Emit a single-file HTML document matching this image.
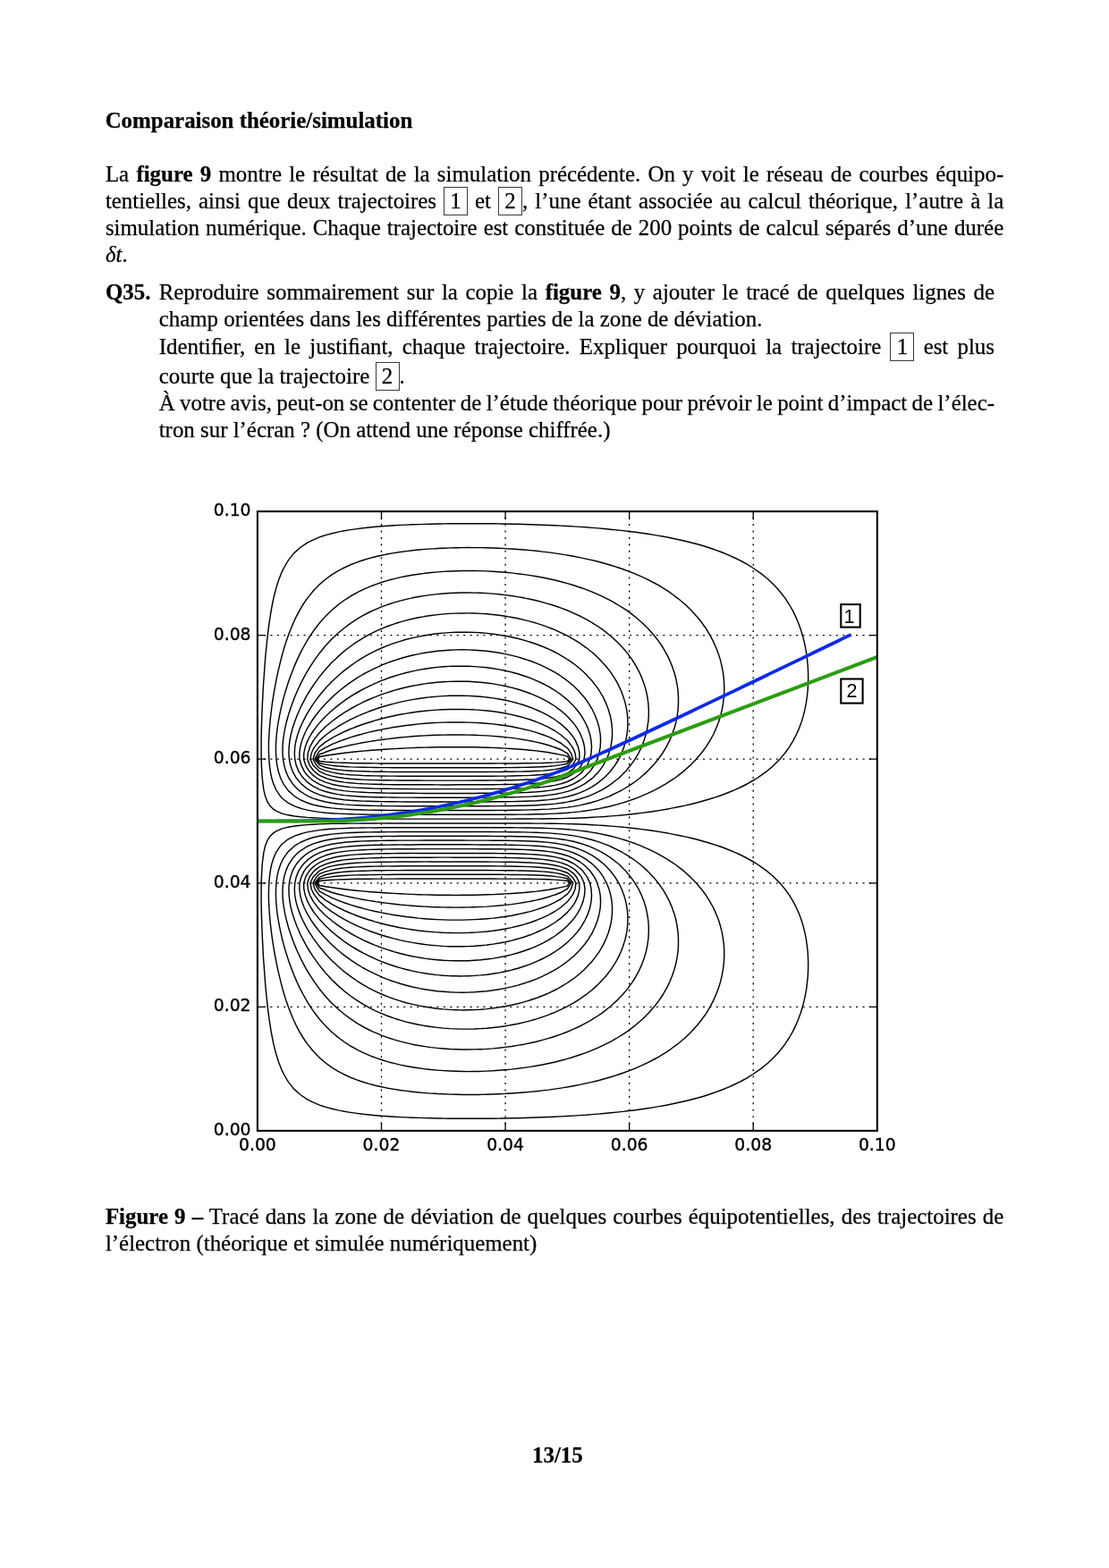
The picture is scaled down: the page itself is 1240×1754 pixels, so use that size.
<!DOCTYPE html>
<html lang="fr"><head><meta charset="utf-8"><title>Page 13/15</title><style>
html,body{margin:0;padding:0;background:#fff}
body{width:1240px;height:1754px;position:relative;overflow:hidden;font-family:"Liberation Serif",serif;font-size:24.9px;color:#000;-webkit-text-stroke:0.25px #000}
#t{position:absolute;left:0;top:0;width:1240px;height:1754px;will-change:transform}
.ln{position:absolute;white-space:nowrap;line-height:30px;height:30px}
.bx{display:inline-block;border:0.85px solid #3a3a3a;padding:6.25px 6.25px 7px;margin:-1.5px 0;line-height:17px;text-align:center;word-spacing:0}
</style></head><body>
<svg width="1240" height="1754" viewBox="0 0 1240 1754" style="position:absolute;left:0;top:0;will-change:transform">
<g stroke="#000" stroke-width="1.3" stroke-dasharray="2.05 5.39" fill="none"><line x1="287.50" y1="1126.34" x2="980.80" y2="1126.34"/><line x1="426.48" y1="1265.10" x2="426.48" y2="572.10"/><line x1="287.50" y1="987.78" x2="980.80" y2="987.78"/><line x1="565.06" y1="1265.10" x2="565.06" y2="572.10"/><line x1="287.50" y1="849.22" x2="980.80" y2="849.22"/><line x1="703.64" y1="1265.10" x2="703.64" y2="572.10"/><line x1="287.50" y1="710.66" x2="980.80" y2="710.66"/><line x1="842.22" y1="1265.10" x2="842.22" y2="572.10"/></g>
<path d="M391.8,995.5 385.3,994.7 384.9,994.7 378.0,993.8 371.0,992.8 364.1,991.7 357.2,990.5 355.4,987.8 357.2,985.5 364.1,984.8 371.0,984.3 378.0,983.9 384.9,983.7 391.8,983.5 398.8,983.3 405.7,983.3 412.6,983.2 419.6,983.1 426.5,983.1 433.4,983.1 440.3,983.1 447.3,983.0 454.2,983.0 461.1,983.0 468.1,983.0 475.0,983.0 481.9,983.0 488.8,983.0 495.8,983.0 502.7,983.0 509.6,983.0 516.6,983.0 523.5,983.0 530.4,983.0 537.3,983.0 544.3,983.0 551.2,983.0 558.1,983.1 565.1,983.1 572.0,983.1 578.9,983.1 585.8,983.2 592.8,983.3 599.7,983.4 606.6,983.5 613.6,983.8 620.5,984.1 627.4,984.6 634.3,985.3 636.5,987.8 634.3,991.1 627.4,992.6 620.5,994.0 616.0,994.7 613.6,995.2 606.6,996.2 599.7,997.1 592.8,997.8 585.8,998.5 578.9,999.0 572.0,999.5 565.1,999.9 558.1,1000.3 551.2,1000.6 544.3,1000.8 537.3,1001.0 530.4,1001.2 523.5,1001.3 516.6,1001.3 509.6,1001.4 502.7,1001.3 495.8,1001.3 488.8,1001.2 481.9,1001.0 475.0,1000.9 468.1,1000.7 461.1,1000.4 454.2,1000.1 447.3,999.8 440.3,999.4 433.4,999.0 426.5,998.5 419.6,998.0 412.6,997.5 405.7,996.9 398.8,996.2ZM426.5,1009.5 419.9,1008.6 419.6,1008.5 412.6,1007.4 405.7,1006.2 398.8,1004.9 391.8,1003.5 384.9,1001.9 384.0,1001.6 378.0,1000.2 371.0,998.2 364.1,995.8 362.2,994.7 357.2,993.2 353.6,987.8 357.2,983.3 364.1,981.9 370.8,980.9 371.0,980.8 378.0,980.0 384.9,979.5 391.8,979.1 398.8,978.9 405.7,978.7 412.6,978.6 419.6,978.5 426.5,978.4 433.4,978.4 440.3,978.3 447.3,978.3 454.2,978.3 461.1,978.3 468.1,978.3 475.0,978.2 481.9,978.2 488.8,978.2 495.8,978.2 502.7,978.2 509.6,978.2 516.6,978.2 523.5,978.2 530.4,978.3 537.3,978.3 544.3,978.3 551.2,978.3 558.1,978.3 565.1,978.4 572.0,978.4 578.9,978.5 585.8,978.6 592.8,978.8 599.7,979.0 606.6,979.3 613.6,979.7 620.5,980.4 623.4,980.9 627.4,981.4 634.3,982.8 638.6,987.8 634.3,994.5 633.6,994.7 627.4,998.3 620.5,1001.0 618.2,1001.6 613.6,1003.3 606.6,1005.2 599.7,1006.9 592.8,1008.3 591.1,1008.6 585.8,1009.5 578.9,1010.6 572.0,1011.6 565.1,1012.4 558.1,1013.0 551.2,1013.6 544.3,1014.1 537.3,1014.4 530.4,1014.7 523.5,1014.9 516.6,1015.0 509.6,1015.1 502.7,1015.0 495.8,1014.9 488.8,1014.7 481.9,1014.5 475.0,1014.1 468.1,1013.7 461.1,1013.2 454.2,1012.6 447.3,1012.0 440.3,1011.2 433.4,1010.4ZM440.3,1023.5 434.4,1022.4 433.4,1022.3 426.5,1020.9 419.6,1019.5 412.6,1017.9 405.7,1016.1 403.7,1015.5 398.8,1014.2 391.8,1012.1 384.9,1009.7 382.0,1008.6 378.0,1007.2 371.0,1004.3 366.0,1001.6 364.1,1000.9 357.2,996.8 355.7,994.7 351.9,987.8 357.2,981.1 358.0,980.9 364.1,978.5 371.0,977.0 378.0,976.0 384.9,975.3 391.8,974.8 398.8,974.4 405.7,974.2 412.6,974.0 414.5,973.9 419.6,973.8 426.5,973.7 433.4,973.6 440.3,973.6 447.3,973.6 454.2,973.5 461.1,973.5 468.1,973.5 475.0,973.5 481.9,973.5 488.8,973.5 495.8,973.5 502.7,973.5 509.6,973.5 516.6,973.5 523.5,973.5 530.4,973.5 537.3,973.5 544.3,973.5 551.2,973.6 558.1,973.6 565.1,973.7 572.0,973.7 578.9,973.9 581.9,973.9 585.8,974.0 592.8,974.2 599.7,974.5 606.6,974.9 613.6,975.5 620.5,976.4 627.4,977.7 634.3,980.1 635.3,980.9 640.7,987.8 638.4,994.7 634.3,1000.4 632.3,1001.6 627.4,1005.5 621.6,1008.6 620.5,1009.3 613.6,1012.6 606.6,1015.2 605.7,1015.5 599.7,1017.6 592.8,1019.6 585.8,1021.3 580.7,1022.4 578.9,1022.8 572.0,1024.2 565.1,1025.3 558.1,1026.3 551.2,1027.1 544.3,1027.7 537.3,1028.2 530.4,1028.6 523.5,1028.9 516.6,1029.1 509.6,1029.1 502.7,1029.1 495.8,1028.9 488.8,1028.6 481.9,1028.2 475.0,1027.7 468.1,1027.1 461.1,1026.3 454.2,1025.5 447.3,1024.5ZM495.8,1043.3 494.1,1043.2 488.8,1042.9 481.9,1042.4 475.0,1041.8 468.1,1041.0 461.1,1040.0 454.2,1038.9 447.3,1037.7 440.4,1036.3 440.3,1036.3 433.4,1034.7 426.5,1033.0 419.6,1031.1 413.8,1029.3 412.6,1029.0 405.7,1026.8 398.8,1024.2 394.3,1022.4 391.8,1021.5 384.9,1018.5 378.9,1015.5 378.0,1015.1 371.0,1011.4 366.8,1008.6 364.1,1007.1 357.3,1001.6 357.2,1001.6 352.1,994.7 350.3,988.8 350.0,987.8 350.3,987.2 353.9,980.9 357.2,977.6 364.1,974.9 368.2,973.9 371.0,973.1 378.0,971.8 384.9,970.9 391.8,970.3 398.8,969.9 405.7,969.5 412.6,969.3 419.6,969.1 426.5,969.0 433.4,968.9 440.3,968.9 447.3,968.8 454.2,968.8 461.1,968.7 468.1,968.7 475.0,968.7 481.9,968.7 488.8,968.7 495.8,968.7 502.7,968.7 509.6,968.7 516.6,968.7 523.5,968.7 530.4,968.7 537.3,968.7 544.3,968.8 551.2,968.8 558.1,968.9 565.1,968.9 572.0,969.0 578.9,969.2 585.8,969.4 592.8,969.6 599.7,970.0 606.6,970.5 613.6,971.2 620.5,972.3 627.3,973.9 627.4,974.0 634.3,976.3 639.7,980.9 641.3,983.1 644.0,987.8 643.0,994.7 641.3,998.9 639.8,1001.6 634.5,1008.6 634.3,1008.7 627.4,1014.8 626.3,1015.5 620.5,1019.5 615.2,1022.4 613.6,1023.4 606.6,1026.7 600.0,1029.3 599.7,1029.5 592.8,1032.0 585.8,1034.1 578.9,1036.0 577.6,1036.3 572.0,1037.6 565.1,1039.0 558.1,1040.2 551.2,1041.2 544.3,1042.0 537.3,1042.6 530.4,1043.1 527.9,1043.2 523.5,1043.4 516.6,1043.6 509.6,1043.6 502.7,1043.5ZM481.9,1057.3 480.1,1057.1 475.0,1056.5 468.1,1055.5 461.1,1054.4 454.2,1053.1 447.3,1051.6 441.3,1050.1 440.3,1049.9 433.4,1048.0 426.5,1046.0 419.6,1043.7 418.4,1043.2 412.6,1041.2 405.7,1038.4 401.0,1036.3 398.8,1035.4 391.8,1032.1 386.8,1029.3 384.9,1028.4 378.0,1024.4 375.1,1022.4 371.0,1019.9 365.3,1015.5 364.1,1014.7 357.4,1008.6 357.2,1008.4 351.9,1001.6 350.3,999.0 348.3,994.7 346.9,987.8 350.2,980.9 350.3,980.8 357.2,974.1 357.7,973.9 364.1,970.9 371.0,968.9 378.0,967.5 381.8,967.0 384.9,966.5 391.8,965.8 398.8,965.3 405.7,964.9 412.6,964.6 419.6,964.4 426.5,964.3 433.4,964.2 440.3,964.1 447.3,964.0 454.2,964.0 461.1,964.0 468.1,964.0 475.0,963.9 481.9,963.9 488.8,963.9 495.8,963.9 502.7,963.9 509.6,963.9 516.6,963.9 523.5,963.9 530.4,964.0 537.3,964.0 544.3,964.0 551.2,964.1 558.1,964.1 565.1,964.2 572.0,964.3 578.9,964.5 585.8,964.7 592.8,965.0 599.7,965.4 606.6,966.0 613.6,966.8 614.5,967.0 620.5,968.0 627.4,969.6 634.3,972.2 637.0,973.9 641.3,977.2 644.6,980.9 647.8,987.8 647.9,994.7 646.4,1001.6 643.4,1008.6 641.3,1012.1 638.7,1015.5 634.3,1020.6 632.4,1022.4 627.4,1026.9 624.0,1029.3 620.5,1032.0 613.6,1036.2 613.4,1036.3 606.6,1039.9 599.7,1043.0 599.3,1043.2 592.8,1045.8 585.8,1048.2 579.4,1050.1 578.9,1050.3 572.0,1052.1 565.1,1053.7 558.1,1055.0 551.2,1056.1 544.3,1057.0 543.6,1057.1 537.3,1057.7 530.4,1058.3 523.5,1058.6 516.6,1058.8 509.6,1058.8 502.7,1058.7 495.8,1058.4 488.8,1057.9ZM468.1,1071.0 467.8,1070.9 461.1,1069.7 454.2,1068.2 447.3,1066.5 440.3,1064.6 438.5,1064.0 433.4,1062.4 426.5,1060.1 419.6,1057.4 418.7,1057.1 412.6,1054.5 405.7,1051.3 403.4,1050.1 398.8,1047.9 391.8,1044.0 390.6,1043.2 384.9,1039.8 379.7,1036.3 378.0,1035.2 371.0,1030.0 370.3,1029.3 364.1,1024.2 362.4,1022.4 357.2,1017.3 355.7,1015.5 350.4,1008.6 350.3,1008.3 346.6,1001.6 344.3,994.7 343.8,987.8 346.1,980.9 350.3,975.3 351.7,973.9 357.2,969.6 363.3,967.0 364.1,966.6 371.0,964.5 378.0,963.0 384.9,961.9 391.8,961.2 398.8,960.6 405.7,960.2 409.3,960.1 412.6,959.9 419.6,959.7 426.5,959.5 433.4,959.4 440.3,959.3 447.3,959.3 454.2,959.2 461.1,959.2 468.1,959.2 475.0,959.2 481.9,959.2 488.8,959.1 495.8,959.1 502.7,959.1 509.6,959.2 516.6,959.2 523.5,959.2 530.4,959.2 537.3,959.2 544.3,959.2 551.2,959.3 558.1,959.4 565.1,959.5 572.0,959.6 578.9,959.8 585.8,960.0 587.4,960.1 592.8,960.3 599.7,960.8 606.6,961.4 613.6,962.2 620.5,963.4 627.4,965.1 632.6,967.0 634.3,967.6 641.3,971.7 644.1,973.9 648.2,978.6 650.0,980.9 653.1,987.8 654.0,994.7 653.5,1001.6 651.9,1008.6 649.1,1015.5 648.2,1017.4 645.3,1022.4 641.3,1028.1 640.2,1029.3 634.3,1035.7 633.8,1036.3 627.4,1041.9 625.6,1043.2 620.5,1047.0 615.5,1050.1 613.6,1051.4 606.6,1055.2 602.5,1057.1 599.7,1058.4 592.8,1061.3 585.8,1063.8 585.2,1064.0 578.9,1066.0 572.0,1067.9 565.1,1069.5 558.1,1070.9 557.9,1070.9 551.2,1072.1 544.3,1073.0 537.3,1073.8 530.4,1074.3 523.5,1074.7 516.6,1074.8 509.6,1074.8 502.7,1074.6 495.8,1074.3 488.8,1073.7 481.9,1073.0 475.0,1072.1ZM509.6,1091.8 506.0,1091.7 502.7,1091.6 495.8,1091.2 488.8,1090.6 481.9,1089.8 475.0,1088.8 468.1,1087.6 461.1,1086.1 455.5,1084.8 454.2,1084.5 447.3,1082.6 440.3,1080.5 433.4,1078.2 432.6,1077.8 426.5,1075.6 419.6,1072.7 415.9,1070.9 412.6,1069.4 405.7,1065.9 402.3,1064.0 398.8,1062.0 391.8,1057.8 390.8,1057.1 384.9,1053.1 381.0,1050.1 378.0,1047.9 372.4,1043.2 371.0,1042.2 364.8,1036.3 364.1,1035.7 358.2,1029.3 357.2,1028.4 352.5,1022.4 350.3,1019.5 347.8,1015.5 344.0,1008.6 343.3,1006.9 341.3,1001.6 339.8,994.7 339.6,987.8 341.8,980.9 343.3,978.1 346.1,973.9 350.3,969.6 353.9,967.0 357.2,964.9 364.1,961.9 370.2,960.1 371.0,959.8 378.0,958.3 384.9,957.2 391.8,956.4 398.8,955.9 405.7,955.5 412.6,955.2 419.6,954.9 426.5,954.8 433.4,954.7 440.3,954.6 447.3,954.5 454.2,954.5 461.1,954.4 468.1,954.4 475.0,954.4 481.9,954.4 488.8,954.4 495.8,954.4 502.7,954.4 509.6,954.4 516.6,954.4 523.5,954.4 530.4,954.4 537.3,954.4 544.3,954.5 551.2,954.5 558.1,954.6 565.1,954.7 572.0,954.8 578.9,955.0 585.8,955.2 592.8,955.6 599.7,956.0 606.6,956.6 613.6,957.5 620.5,958.6 626.4,960.1 627.4,960.3 634.3,962.5 641.3,966.0 642.9,967.0 648.2,971.0 651.3,973.9 655.1,979.1 656.5,980.9 659.6,987.8 661.1,994.7 661.5,1001.6 661.0,1008.6 659.6,1015.5 657.3,1022.4 655.1,1027.3 654.1,1029.3 650.0,1036.3 648.2,1039.0 644.9,1043.2 641.3,1047.4 638.6,1050.1 634.3,1054.2 630.8,1057.1 627.4,1059.8 621.4,1064.0 620.5,1064.6 613.6,1068.9 609.7,1070.9 606.6,1072.5 599.7,1075.7 594.5,1077.8 592.8,1078.6 585.8,1081.0 578.9,1083.2 573.1,1084.8 572.0,1085.1 565.1,1086.7 558.1,1088.1 551.2,1089.2 544.3,1090.2 537.3,1090.9 530.4,1091.4 524.2,1091.7 523.5,1091.7 516.6,1091.9ZM475.0,1106.7 468.8,1105.6 468.1,1105.4 461.1,1104.0 454.2,1102.2 447.3,1100.3 442.3,1098.6 440.3,1098.0 433.4,1095.6 426.5,1092.8 424.2,1091.7 419.6,1089.7 412.6,1086.2 410.0,1084.8 405.7,1082.5 398.8,1078.3 398.1,1077.8 391.8,1073.7 388.1,1070.9 384.9,1068.6 379.2,1064.0 378.0,1063.0 371.4,1057.1 371.0,1056.8 364.4,1050.1 364.1,1049.8 358.2,1043.2 357.2,1042.0 352.7,1036.3 350.3,1033.0 347.9,1029.3 343.7,1022.4 343.3,1021.7 340.3,1015.5 337.6,1008.6 336.4,1004.1 335.8,1001.6 334.8,994.7 335.0,987.8 336.4,982.7 336.9,980.9 340.3,973.9 343.3,970.0 346.3,967.0 350.3,963.7 356.4,960.1 357.2,959.6 364.1,956.8 371.0,954.8 378.0,953.4 380.0,953.1 384.9,952.4 391.8,951.6 398.8,951.1 405.7,950.7 412.6,950.4 419.6,950.2 426.5,950.0 433.4,949.9 440.3,949.8 447.3,949.7 454.2,949.7 461.1,949.7 468.1,949.6 475.0,949.6 481.9,949.6 488.8,949.6 495.8,949.6 502.7,949.6 509.6,949.6 516.6,949.6 523.5,949.6 530.4,949.6 537.3,949.7 544.3,949.7 551.2,949.7 558.1,949.8 565.1,949.9 572.0,950.0 578.9,950.2 585.8,950.4 592.8,950.8 599.7,951.2 606.6,951.8 613.6,952.6 617.0,953.1 620.5,953.7 627.4,955.2 634.3,957.2 641.3,960.1 641.3,960.1 648.2,964.0 652.4,967.0 655.1,969.5 659.6,973.9 662.1,977.5 664.5,980.9 667.8,987.8 669.0,991.9 670.0,994.7 671.2,1001.6 671.6,1008.6 671.2,1015.5 670.0,1022.4 669.0,1026.3 668.2,1029.3 665.6,1036.3 662.3,1043.2 662.1,1043.7 658.2,1050.1 655.1,1054.5 653.2,1057.1 648.2,1062.8 647.1,1064.0 641.3,1069.7 639.9,1070.9 634.3,1075.5 631.1,1077.8 627.4,1080.5 620.6,1084.8 620.5,1084.8 613.6,1088.7 607.4,1091.7 606.6,1092.1 599.7,1095.1 592.8,1097.7 590.0,1098.6 585.8,1100.0 578.9,1102.1 572.0,1103.9 565.1,1105.4 564.1,1105.6 558.1,1106.7 551.2,1107.8 544.3,1108.7 537.3,1109.3 530.4,1109.8 523.5,1110.1 516.6,1110.2 509.6,1110.1 502.7,1109.8 495.8,1109.3 488.8,1108.7 481.9,1107.8ZM481.9,1127.3 475.8,1126.3 475.0,1126.2 468.1,1124.9 461.1,1123.4 454.2,1121.7 447.3,1119.6 446.6,1119.4 440.3,1117.4 433.4,1114.9 427.7,1112.5 426.5,1112.0 419.6,1108.8 413.2,1105.6 412.6,1105.3 405.7,1101.4 401.3,1098.6 398.8,1097.0 391.8,1092.2 391.2,1091.7 384.9,1086.9 382.4,1084.8 378.0,1081.0 374.6,1077.8 371.0,1074.5 367.7,1070.9 364.1,1067.2 361.4,1064.0 357.2,1059.0 355.8,1057.1 350.7,1050.1 350.3,1049.6 346.1,1043.2 343.3,1038.6 342.1,1036.3 338.5,1029.3 336.4,1024.8 335.4,1022.4 332.9,1015.5 331.0,1008.6 329.7,1001.6 329.5,997.8 329.3,994.7 329.5,991.3 329.7,987.8 331.2,980.9 334.1,973.9 336.4,970.4 338.9,967.0 343.3,962.4 346.3,960.1 350.3,957.4 357.2,953.9 359.4,953.1 364.1,951.5 371.0,949.7 378.0,948.4 384.9,947.4 391.8,946.7 398.8,946.2 398.8,946.2 405.7,945.8 412.6,945.5 419.6,945.3 426.5,945.2 433.4,945.1 440.3,945.0 447.3,944.9 454.2,944.9 461.1,944.9 468.1,944.8 475.0,944.8 481.9,944.8 488.8,944.8 495.8,944.8 502.7,944.8 509.6,944.8 516.6,944.8 523.5,944.8 530.4,944.9 537.3,944.9 544.3,944.9 551.2,945.0 558.1,945.0 565.1,945.1 572.0,945.2 578.9,945.4 585.8,945.6 592.8,945.9 598.0,946.2 599.7,946.3 606.6,946.8 613.6,947.6 620.5,948.5 627.4,949.9 634.3,951.6 638.9,953.1 641.3,954.0 648.2,957.1 653.6,960.1 655.1,961.1 662.1,966.3 662.9,967.0 669.0,973.3 669.6,973.9 674.6,980.9 675.9,983.5 678.3,987.8 681.0,994.7 682.9,1001.6 682.9,1001.6 684.1,1008.6 684.6,1015.5 684.4,1022.4 683.7,1029.3 682.9,1033.5 682.3,1036.3 680.3,1043.2 677.7,1050.1 675.9,1053.9 674.4,1057.1 670.4,1064.0 669.0,1066.1 665.5,1070.9 662.1,1075.3 659.8,1077.8 655.1,1082.8 653.1,1084.8 648.2,1089.2 645.1,1091.7 641.3,1094.7 635.6,1098.6 634.3,1099.5 627.4,1103.7 624.1,1105.6 620.5,1107.5 613.6,1110.8 609.7,1112.5 606.6,1113.8 599.7,1116.5 592.8,1118.8 590.8,1119.4 585.8,1120.9 578.9,1122.7 572.0,1124.3 565.1,1125.7 561.2,1126.3 558.1,1126.9 551.2,1127.8 544.3,1128.6 537.3,1129.2 530.4,1129.6 523.5,1129.8 516.6,1129.9 509.6,1129.7 502.7,1129.4 495.8,1128.9 488.8,1128.2ZM475.0,1147.5 473.2,1147.1 468.1,1146.2 461.1,1144.8 454.2,1143.1 447.3,1141.1 444.4,1140.2 440.3,1138.9 433.4,1136.5 426.5,1133.7 425.6,1133.3 419.6,1130.6 412.6,1127.1 411.4,1126.3 405.7,1123.2 399.7,1119.4 398.8,1118.8 391.8,1114.0 389.9,1112.5 384.9,1108.6 381.4,1105.6 378.0,1102.6 373.8,1098.6 371.0,1095.9 367.2,1091.7 364.1,1088.4 361.1,1084.8 357.2,1079.9 355.7,1077.8 350.7,1070.9 350.3,1070.3 346.2,1064.0 343.3,1059.3 342.1,1057.1 338.4,1050.1 336.4,1046.3 335.0,1043.2 332.0,1036.3 329.5,1029.6 329.4,1029.3 327.1,1022.4 325.3,1015.5 324.0,1008.6 323.2,1001.6 322.9,994.7 323.4,987.8 324.8,980.9 327.3,973.9 329.5,969.8 331.1,967.0 336.4,960.6 336.9,960.1 343.3,954.8 346.0,953.1 350.3,950.8 357.2,947.9 362.9,946.2 364.1,945.9 371.0,944.3 378.0,943.2 384.9,942.3 391.8,941.7 398.8,941.3 405.7,940.9 412.6,940.7 419.6,940.5 426.5,940.4 433.4,940.3 440.3,940.2 447.3,940.1 454.2,940.1 461.1,940.1 468.1,940.1 475.0,940.0 481.9,940.0 488.8,940.0 495.8,940.0 502.7,940.0 509.6,940.0 516.6,940.0 523.5,940.1 530.4,940.1 537.3,940.1 544.3,940.1 551.2,940.2 558.1,940.2 565.1,940.3 572.0,940.4 578.9,940.5 585.8,940.7 592.8,941.0 599.7,941.3 606.6,941.8 613.6,942.4 620.5,943.3 627.4,944.4 634.3,945.8 635.8,946.2 641.3,947.7 648.2,950.1 655.1,953.1 655.1,953.1 662.1,956.9 667.0,960.1 669.0,961.6 675.6,967.0 675.9,967.3 682.3,973.9 682.9,974.7 687.6,980.9 689.8,984.5 691.9,987.8 695.2,994.7 696.7,999.0 697.8,1001.6 699.7,1008.6 701.0,1015.5 701.8,1022.4 701.9,1029.3 701.6,1036.3 700.7,1043.2 699.2,1050.1 697.1,1057.1 696.7,1058.3 694.6,1064.0 691.4,1070.9 689.8,1073.8 687.5,1077.8 682.9,1084.8 682.9,1084.9 677.6,1091.7 675.9,1093.6 671.3,1098.6 669.0,1101.0 664.0,1105.6 662.1,1107.3 655.5,1112.5 655.1,1112.7 648.2,1117.6 645.4,1119.4 641.3,1121.9 634.3,1125.8 633.2,1126.3 627.4,1129.2 620.5,1132.3 618.2,1133.3 613.6,1135.1 606.6,1137.6 599.7,1139.9 598.5,1140.2 592.8,1141.9 585.8,1143.6 578.9,1145.2 572.0,1146.5 568.5,1147.1 565.1,1147.7 558.1,1148.7 551.2,1149.5 544.3,1150.2 537.3,1150.6 530.4,1151.0 523.5,1151.1 516.6,1151.1 509.6,1150.9 502.7,1150.6 495.8,1150.1 488.8,1149.4 481.9,1148.5ZM461.1,1168.2 460.0,1167.9 454.2,1166.6 447.3,1164.9 440.3,1162.9 434.5,1161.0 433.4,1160.6 426.5,1158.1 419.6,1155.2 417.1,1154.1 412.6,1152.0 405.7,1148.4 403.6,1147.1 398.8,1144.3 392.6,1140.2 391.8,1139.7 384.9,1134.5 383.4,1133.3 378.0,1128.8 375.4,1126.3 371.0,1122.2 368.4,1119.4 364.1,1114.8 362.2,1112.5 357.2,1106.3 356.7,1105.6 351.7,1098.6 350.3,1096.7 347.1,1091.7 343.3,1085.5 342.9,1084.8 339.1,1077.8 336.4,1072.6 335.6,1070.9 332.4,1064.0 329.5,1057.1 329.4,1057.1 326.8,1050.1 324.4,1043.2 322.5,1037.4 322.2,1036.3 320.3,1029.3 318.7,1022.4 317.5,1015.5 316.5,1008.6 316.0,1001.6 316.0,994.7 316.5,987.8 317.7,980.9 319.7,973.9 322.5,967.5 322.8,967.0 327.3,960.1 329.5,957.5 334.0,953.1 336.4,951.3 343.3,947.0 345.0,946.2 350.3,943.9 357.2,941.7 364.1,940.0 368.1,939.3 371.0,938.8 378.0,937.8 384.9,937.1 391.8,936.6 398.8,936.3 405.7,936.0 412.6,935.8 419.6,935.6 426.5,935.5 433.4,935.4 440.3,935.4 447.3,935.3 454.2,935.3 461.1,935.3 468.1,935.3 475.0,935.3 481.9,935.3 488.8,935.2 495.8,935.2 502.7,935.2 509.6,935.2 516.6,935.3 523.5,935.3 530.4,935.3 537.3,935.3 544.3,935.3 551.2,935.4 558.1,935.4 565.1,935.5 572.0,935.5 578.9,935.7 585.8,935.8 592.8,936.0 599.7,936.3 606.6,936.7 613.6,937.2 620.5,937.9 627.4,938.8 630.6,939.3 634.3,939.9 641.3,941.3 648.2,943.2 655.1,945.4 657.5,946.2 662.1,948.1 669.0,951.3 672.6,953.1 675.9,955.1 682.9,959.6 683.5,960.1 689.8,965.0 692.3,967.0 696.7,971.4 699.3,973.9 703.6,979.2 705.1,980.9 710.0,987.8 710.6,988.9 714.1,994.7 717.4,1001.6 717.5,1002.0 720.1,1008.6 722.2,1015.5 723.7,1022.4 724.4,1027.2 724.8,1029.3 725.3,1036.3 725.3,1043.2 724.9,1050.1 724.4,1053.3 723.9,1057.1 722.5,1064.0 720.5,1070.9 718.0,1077.8 717.5,1079.1 715.0,1084.8 711.3,1091.7 710.6,1093.0 707.1,1098.6 703.6,1103.4 702.1,1105.6 696.7,1112.0 696.3,1112.5 689.8,1119.2 689.6,1119.4 682.9,1125.5 681.9,1126.3 675.9,1131.1 672.9,1133.3 669.0,1136.0 662.4,1140.2 662.1,1140.4 655.1,1144.4 649.9,1147.1 648.2,1148.0 641.3,1151.2 634.6,1154.1 634.3,1154.2 627.4,1156.9 620.5,1159.3 615.0,1161.0 613.6,1161.4 606.6,1163.4 599.7,1165.2 592.8,1166.8 587.1,1167.9 585.8,1168.2 578.9,1169.4 572.0,1170.5 565.1,1171.4 558.1,1172.2 551.2,1172.9 544.3,1173.4 537.3,1173.7 530.4,1173.9 523.5,1174.0 516.6,1174.0 509.6,1173.8 502.7,1173.5 495.8,1173.0 488.8,1172.4 481.9,1171.6 475.0,1170.6 468.1,1169.5ZM475.0,1195.7 474.3,1195.6 468.1,1194.8 461.1,1193.7 454.2,1192.5 447.3,1191.1 440.3,1189.4 437.5,1188.7 433.4,1187.6 426.5,1185.5 419.6,1183.1 416.1,1181.8 412.6,1180.4 405.7,1177.4 400.6,1174.8 398.8,1173.9 391.8,1170.0 388.6,1167.9 384.9,1165.5 378.8,1161.0 378.0,1160.4 371.0,1154.5 370.5,1154.1 364.1,1147.8 363.5,1147.1 357.4,1140.2 357.2,1140.0 352.0,1133.3 350.3,1130.9 347.2,1126.3 343.3,1120.2 342.9,1119.4 339.0,1112.5 336.4,1107.7 335.4,1105.6 332.1,1098.6 329.5,1092.6 329.1,1091.7 326.4,1084.8 323.8,1077.8 322.5,1074.2 321.5,1070.9 319.3,1064.0 317.3,1057.1 315.6,1050.5 315.5,1050.1 313.9,1043.2 312.5,1036.3 311.2,1029.3 310.1,1022.4 309.3,1015.5 308.7,1008.6 308.7,1007.4 308.4,1001.6 308.5,994.7 308.7,991.6 308.9,987.8 309.8,980.9 311.3,973.9 313.6,967.0 315.6,962.7 316.9,960.1 321.9,953.1 322.5,952.4 329.5,946.2 329.5,946.2 336.4,942.0 342.7,939.3 343.3,939.0 350.3,936.8 357.2,935.2 364.1,934.0 371.0,933.1 378.0,932.4 378.5,932.4 384.9,931.9 391.8,931.5 398.8,931.2 405.7,931.0 412.6,930.9 419.6,930.8 426.5,930.7 433.4,930.6 440.3,930.6 447.3,930.5 454.2,930.5 461.1,930.5 468.1,930.5 475.0,930.5 481.9,930.5 488.8,930.5 495.8,930.5 502.7,930.5 509.6,930.5 516.6,930.5 523.5,930.5 530.4,930.5 537.3,930.5 544.3,930.5 551.2,930.5 558.1,930.6 565.1,930.6 572.0,930.7 578.9,930.8 585.8,930.9 592.8,931.1 599.7,931.3 606.6,931.6 613.6,931.9 619.6,932.4 620.5,932.4 627.4,933.1 634.3,933.9 641.3,934.9 648.2,936.1 655.1,937.7 661.3,939.3 662.1,939.5 669.0,941.6 675.9,944.1 681.2,946.2 682.9,947.0 689.8,950.3 695.4,953.1 696.7,954.0 703.6,958.2 706.6,960.1 710.6,963.0 715.9,967.0 717.5,968.5 723.7,973.9 724.4,974.8 730.3,980.9 731.4,982.1 736.1,987.8 738.3,991.0 741.0,994.7 745.1,1001.6 745.2,1001.9 748.7,1008.6 751.6,1015.5 752.1,1017.2 754.0,1022.4 755.9,1029.3 757.2,1036.3 758.1,1043.2 758.5,1050.1 758.5,1057.1 758.1,1064.0 757.1,1070.9 755.8,1077.8 753.9,1084.8 752.1,1089.9 751.5,1091.7 748.7,1098.6 745.3,1105.6 745.2,1105.6 741.3,1112.5 738.3,1117.0 736.7,1119.4 731.4,1126.3 731.3,1126.3 725.2,1133.3 724.4,1134.1 718.2,1140.2 717.5,1140.8 710.6,1146.8 710.2,1147.1 703.6,1152.1 700.9,1154.1 696.7,1156.9 690.1,1161.0 689.8,1161.2 682.9,1165.1 677.4,1167.9 675.9,1168.6 669.0,1171.9 662.1,1174.8 662.1,1174.8 655.1,1177.6 648.2,1180.0 642.9,1181.8 641.3,1182.3 634.3,1184.4 627.4,1186.3 620.5,1188.0 617.3,1188.7 613.6,1189.5 606.6,1191.0 599.7,1192.2 592.8,1193.4 585.8,1194.4 578.9,1195.3 575.9,1195.6 572.0,1196.1 565.1,1196.7 558.1,1197.3 551.2,1197.8 544.3,1198.1 537.3,1198.4 530.4,1198.5 523.5,1198.6 516.6,1198.5 509.6,1198.3 502.7,1198.0 495.8,1197.6 488.8,1197.1 481.9,1196.5ZM488.8,1223.5 486.4,1223.3 481.9,1223.1 475.0,1222.6 468.1,1222.0 461.1,1221.2 454.2,1220.4 447.3,1219.5 440.3,1218.4 433.4,1217.2 429.6,1216.4 426.5,1215.8 419.6,1214.2 412.6,1212.4 405.7,1210.3 403.3,1209.5 398.8,1207.9 391.8,1205.2 386.1,1202.5 384.9,1202.0 378.0,1198.3 373.5,1195.6 371.0,1194.1 364.1,1189.0 363.7,1188.7 357.2,1183.1 355.8,1181.8 350.3,1176.0 349.3,1174.8 343.8,1167.9 343.3,1167.3 339.0,1161.0 336.4,1156.7 334.9,1154.1 331.2,1147.1 329.5,1143.5 328.0,1140.2 325.1,1133.3 322.5,1126.7 322.4,1126.3 320.0,1119.4 317.8,1112.5 315.8,1105.6 315.6,1104.8 314.0,1098.6 312.3,1091.7 310.7,1084.8 309.2,1077.8 308.7,1075.2 307.9,1070.9 306.6,1064.0 305.5,1057.1 304.4,1050.1 303.5,1043.2 302.7,1036.3 301.9,1029.3 301.8,1027.3 301.3,1022.4 300.9,1015.5 300.5,1008.6 300.4,1001.6 300.5,994.7 300.8,987.8 301.4,980.9 301.8,977.8 302.3,973.9 303.7,967.0 305.8,960.1 308.7,953.5 308.9,953.1 313.6,946.2 315.6,944.0 321.5,939.3 322.5,938.6 329.5,935.1 336.4,932.7 337.5,932.4 343.3,930.9 350.3,929.6 357.2,928.6 364.1,927.8 371.0,927.3 378.0,926.9 384.9,926.6 391.8,926.3 398.8,926.1 405.7,926.0 412.6,925.9 419.6,925.9 426.5,925.8 433.4,925.8 440.3,925.7 447.3,925.7 454.2,925.7 461.1,925.7 468.1,925.7 475.0,925.7 481.9,925.7 488.8,925.7 495.8,925.7 502.7,925.7 509.6,925.7 516.6,925.7 523.5,925.7 530.4,925.7 537.3,925.7 544.3,925.7 551.2,925.7 558.1,925.7 565.1,925.8 572.0,925.8 578.9,925.9 585.8,925.9 592.8,926.0 599.7,926.2 606.6,926.3 613.6,926.6 620.5,926.9 627.4,927.3 634.3,927.7 641.3,928.4 648.2,929.1 655.1,930.0 662.1,931.1 669.0,932.3 669.4,932.4 675.9,933.7 682.9,935.3 689.8,937.1 696.7,939.1 697.3,939.3 703.6,941.4 710.6,943.8 716.7,946.2 717.5,946.6 724.4,949.6 731.4,952.9 731.9,953.1 738.3,956.6 744.4,960.1 745.2,960.6 752.1,965.1 755.0,967.0 759.1,970.1 764.0,973.9 766.0,975.7 771.8,980.9 772.9,982.0 778.5,987.8 779.9,989.4 784.4,994.7 786.8,998.0 789.5,1001.6 793.7,1008.4 793.8,1008.6 797.7,1015.5 800.6,1022.1 800.8,1022.4 803.5,1029.3 805.6,1036.3 807.3,1043.2 807.6,1044.8 808.5,1050.1 809.4,1057.1 809.8,1064.0 809.7,1070.9 809.3,1077.8 808.4,1084.8 807.6,1089.2 807.1,1091.7 805.5,1098.6 803.3,1105.6 800.7,1112.5 800.6,1112.5 797.6,1119.4 793.9,1126.3 793.7,1126.7 789.8,1133.3 786.8,1137.5 784.9,1140.2 779.9,1146.5 779.4,1147.1 773.1,1154.1 772.9,1154.2 766.0,1160.9 765.9,1161.0 759.1,1166.7 757.6,1167.9 752.1,1172.0 748.2,1174.8 745.2,1176.8 738.3,1181.1 737.2,1181.8 731.4,1185.0 724.4,1188.6 724.3,1188.7 717.5,1191.9 710.6,1194.9 708.9,1195.6 703.6,1197.7 696.7,1200.3 690.0,1202.5 689.8,1202.6 682.9,1204.8 675.9,1206.8 669.0,1208.7 665.7,1209.5 662.1,1210.4 655.1,1211.9 648.2,1213.4 641.3,1214.7 634.3,1216.0 631.6,1216.4 627.4,1217.1 620.5,1218.1 613.6,1219.1 606.6,1219.9 599.7,1220.7 592.8,1221.4 585.8,1222.0 578.9,1222.5 572.0,1223.0 566.1,1223.3 565.1,1223.4 558.1,1223.7 551.2,1224.0 544.3,1224.2 537.3,1224.4 530.4,1224.4 523.5,1224.5 516.6,1224.4 509.6,1224.3 502.7,1224.1 495.8,1223.8ZM495.8,1251.1 493.8,1251.0 488.8,1251.0 481.9,1250.8 475.0,1250.6 468.1,1250.4 461.1,1250.2 454.2,1249.9 447.3,1249.6 440.3,1249.2 433.4,1248.7 426.5,1248.3 419.6,1247.7 412.6,1247.0 405.7,1246.3 398.8,1245.4 391.8,1244.4 389.9,1244.1 384.9,1243.3 378.0,1241.9 371.0,1240.3 364.1,1238.4 360.4,1237.2 357.2,1236.1 350.3,1233.2 344.5,1230.3 343.3,1229.6 336.4,1225.0 334.3,1223.3 329.5,1218.9 327.2,1216.4 322.5,1210.4 321.9,1209.5 317.8,1202.5 315.6,1198.2 314.5,1195.6 311.8,1188.7 309.5,1181.8 308.7,1178.9 307.6,1174.8 305.9,1167.9 304.5,1161.0 303.2,1154.1 302.1,1147.1 301.8,1145.2 301.0,1140.2 300.1,1133.3 299.3,1126.3 298.5,1119.4 297.8,1112.5 297.1,1105.6 296.5,1098.6 296.0,1091.7 295.5,1084.8 295.0,1077.8 294.8,1075.7 294.5,1070.9 294.1,1064.0 293.8,1057.1 293.4,1050.1 293.1,1043.2 292.8,1036.3 292.6,1029.3 292.4,1022.4 292.2,1015.5 292.1,1008.6 292.1,1001.6 292.1,994.7 292.2,987.8 292.4,980.9 292.8,973.9 293.2,967.0 294.0,960.1 294.8,954.2 295.0,953.1 296.6,946.2 299.4,939.3 301.8,935.7 305.0,932.4 308.7,929.8 315.6,926.9 321.4,925.4 322.5,925.2 329.5,924.0 336.4,923.2 343.3,922.6 350.3,922.2 357.2,921.9 364.1,921.6 371.0,921.4 378.0,921.3 384.9,921.2 391.8,921.1 398.8,921.1 405.7,921.0 412.6,921.0 419.6,921.0 426.5,920.9 433.4,920.9 440.3,920.9 447.3,920.9 454.2,920.9 461.1,920.9 468.1,920.9 475.0,920.9 481.9,920.9 488.8,920.9 495.8,920.9 502.7,920.9 509.6,920.9 516.6,920.9 523.5,920.9 530.4,920.9 537.3,920.9 544.3,920.9 551.2,920.9 558.1,920.9 565.1,920.9 572.0,920.9 578.9,921.0 585.8,921.0 592.8,921.0 599.7,921.1 606.6,921.1 613.6,921.2 620.5,921.3 627.4,921.4 634.3,921.6 641.3,921.8 648.2,922.0 655.1,922.3 662.1,922.7 669.0,923.1 675.9,923.5 682.9,924.1 689.8,924.6 696.7,925.3 698.3,925.4 703.6,926.0 710.6,926.8 717.5,927.6 724.4,928.5 731.4,929.5 738.3,930.6 745.2,931.8 748.4,932.4 752.1,933.1 759.1,934.5 766.0,935.9 772.9,937.5 779.9,939.3 779.9,939.3 786.8,941.2 793.7,943.2 800.6,945.4 803.1,946.2 807.6,947.8 814.5,950.5 821.0,953.1 821.4,953.3 828.4,956.5 835.3,960.0 835.4,960.1 842.2,964.0 847.2,967.0 849.1,968.4 856.1,973.3 856.9,973.9 863.0,979.0 865.1,980.9 869.9,985.7 872.0,987.8 876.9,993.6 877.8,994.7 882.8,1001.6 883.8,1003.3 887.0,1008.6 890.5,1015.5 890.7,1016.0 893.6,1022.4 896.1,1029.3 897.7,1034.6 898.2,1036.3 899.9,1043.2 901.3,1050.1 902.3,1057.1 903.1,1064.0 903.5,1070.9 903.7,1077.8 903.6,1084.8 903.3,1091.7 902.6,1098.6 901.8,1105.6 900.6,1112.5 899.1,1119.4 897.7,1124.9 897.3,1126.3 895.2,1133.3 892.6,1140.2 890.7,1144.7 889.7,1147.1 886.3,1154.1 883.8,1158.5 882.3,1161.0 877.8,1167.9 876.9,1169.1 872.5,1174.8 869.9,1177.7 866.3,1181.8 863.0,1185.0 859.1,1188.7 856.1,1191.3 850.7,1195.6 849.1,1196.7 842.2,1201.5 840.6,1202.5 835.3,1205.8 828.6,1209.5 828.4,1209.6 821.4,1213.0 814.5,1216.2 813.9,1216.4 807.6,1219.0 800.6,1221.6 795.7,1223.3 793.7,1224.0 786.8,1226.2 779.9,1228.2 772.9,1230.0 772.0,1230.3 766.0,1231.7 759.1,1233.3 752.1,1234.8 745.2,1236.2 739.7,1237.2 738.3,1237.4 731.4,1238.6 724.4,1239.7 717.5,1240.7 710.6,1241.7 703.6,1242.5 696.7,1243.4 689.8,1244.1 689.7,1244.1 682.9,1244.8 675.9,1245.5 669.0,1246.1 662.1,1246.6 655.1,1247.2 648.2,1247.6 641.3,1248.1 634.3,1248.5 627.4,1248.9 620.5,1249.2 613.6,1249.5 606.6,1249.8 599.7,1250.0 592.8,1250.3 585.8,1250.5 578.9,1250.7 572.0,1250.8 565.1,1251.0 559.8,1251.0 558.1,1251.1 551.2,1251.2 544.3,1251.2 537.3,1251.3 530.4,1251.3 523.5,1251.3 516.6,1251.3 509.6,1251.2 502.7,1251.2ZM321.4,911.6 322.5,911.8 329.5,913.0 336.4,913.8 343.3,914.4 350.3,914.8 357.2,915.1 364.1,915.4 371.0,915.6 378.0,915.7 384.9,915.8 391.8,915.9 398.8,915.9 405.7,916.0 412.6,916.0 419.6,916.0 426.5,916.1 433.4,916.1 440.3,916.1 447.3,916.1 454.2,916.1 461.1,916.1 468.1,916.1 475.0,916.1 481.9,916.1 488.8,916.1 495.8,916.1 502.7,916.1 509.6,916.1 516.6,916.1 523.5,916.1 530.4,916.1 537.3,916.1 544.3,916.1 551.2,916.1 558.1,916.1 565.1,916.1 572.0,916.1 578.9,916.0 585.8,916.0 592.8,916.0 599.7,915.9 606.6,915.9 613.6,915.8 620.5,915.7 627.4,915.6 634.3,915.4 641.3,915.2 648.2,915.0 655.1,914.7 662.1,914.3 669.0,913.9 675.9,913.5 682.9,912.9 689.8,912.4 696.7,911.7 698.3,911.6 703.6,911.0 710.6,910.2 717.5,909.4 724.4,908.5 731.4,907.5 738.3,906.4 745.2,905.2 748.4,904.6 752.1,903.9 759.1,902.5 766.0,901.1 772.9,899.5 779.9,897.7 779.9,897.7 786.8,895.8 793.7,893.8 800.6,891.6 803.1,890.8 807.6,889.2 814.5,886.5 821.0,883.9 821.4,883.7 828.4,880.5 835.3,877.0 835.4,876.9 842.2,873.0 847.2,870.0 849.1,868.6 856.1,863.7 856.9,863.1 863.0,858.0 865.1,856.1 869.9,851.3 872.0,849.2 876.9,843.4 877.8,842.3 882.8,835.4 883.8,833.7 887.0,828.4 890.5,821.5 890.7,821.0 893.6,814.6 896.1,807.7 897.7,802.4 898.2,800.7 899.9,793.8 901.3,786.9 902.3,779.9 903.1,773.0 903.5,766.1 903.7,759.2 903.6,752.2 903.3,745.3 902.6,738.4 901.8,731.4 900.6,724.5 899.1,717.6 897.7,712.1 897.3,710.7 895.2,703.7 892.6,696.8 890.7,692.3 889.7,689.9 886.3,682.9 883.8,678.5 882.3,676.0 877.8,669.1 876.9,667.9 872.5,662.2 869.9,659.3 866.3,655.2 863.0,652.0 859.1,648.3 856.1,645.7 850.7,641.4 849.1,640.3 842.2,635.5 840.6,634.5 835.3,631.2 828.6,627.5 828.4,627.4 821.4,624.0 814.5,620.8 813.9,620.6 807.6,618.0 800.6,615.4 795.7,613.7 793.7,613.0 786.8,610.8 779.9,608.8 772.9,607.0 772.0,606.7 766.0,605.3 759.1,603.7 752.1,602.2 745.2,600.8 739.7,599.8 738.3,599.6 731.4,598.4 724.4,597.3 717.5,596.3 710.6,595.3 703.6,594.5 696.7,593.6 689.8,592.9 689.7,592.9 682.9,592.2 675.9,591.5 669.0,590.9 662.1,590.4 655.1,589.8 648.2,589.4 641.3,588.9 634.3,588.5 627.4,588.1 620.5,587.8 613.6,587.5 606.6,587.2 599.7,587.0 592.8,586.7 585.8,586.5 578.9,586.3 572.0,586.2 565.1,586.0 559.8,586.0 558.1,585.9 551.2,585.8 544.3,585.8 537.3,585.7 530.4,585.7 523.5,585.7 516.6,585.7 509.6,585.8 502.7,585.8 495.8,585.9 493.8,586.0 488.8,586.0 481.9,586.2 475.0,586.4 468.1,586.6 461.1,586.8 454.2,587.1 447.3,587.4 440.3,587.8 433.4,588.3 426.5,588.7 419.6,589.3 412.6,590.0 405.7,590.7 398.8,591.6 391.8,592.6 389.9,592.9 384.9,593.7 378.0,595.1 371.0,596.7 364.1,598.6 360.4,599.8 357.2,600.9 350.3,603.8 344.5,606.7 343.3,607.4 336.4,612.0 334.3,613.7 329.5,618.1 327.2,620.6 322.5,626.6 321.9,627.5 317.8,634.5 315.6,638.8 314.5,641.4 311.8,648.3 309.5,655.2 308.7,658.1 307.6,662.2 305.9,669.1 304.5,676.0 303.2,682.9 302.1,689.9 301.8,691.8 301.0,696.8 300.1,703.7 299.3,710.7 298.5,717.6 297.8,724.5 297.1,731.4 296.5,738.4 296.0,745.3 295.5,752.2 295.0,759.2 294.8,761.3 294.5,766.1 294.1,773.0 293.8,779.9 293.4,786.9 293.1,793.8 292.8,800.7 292.6,807.7 292.4,814.6 292.2,821.5 292.1,828.4 292.1,835.4 292.1,842.3 292.2,849.2 292.4,856.1 292.8,863.1 293.2,870.0 294.0,876.9 294.8,882.8 295.0,883.9 296.6,890.8 299.4,897.7 301.8,901.3 305.0,904.6 308.7,907.2 315.6,910.1ZM337.5,904.6 343.3,906.1 350.3,907.4 357.2,908.4 364.1,909.2 371.0,909.7 378.0,910.1 384.9,910.4 391.8,910.7 398.8,910.9 405.7,911.0 412.6,911.1 419.6,911.1 426.5,911.2 433.4,911.2 440.3,911.3 447.3,911.3 454.2,911.3 461.1,911.3 468.1,911.3 475.0,911.3 481.9,911.3 488.8,911.3 495.8,911.3 502.7,911.3 509.6,911.3 516.6,911.3 523.5,911.3 530.4,911.3 537.3,911.3 544.3,911.3 551.2,911.3 558.1,911.3 565.1,911.2 572.0,911.2 578.9,911.1 585.8,911.1 592.8,911.0 599.7,910.8 606.6,910.7 613.6,910.4 620.5,910.1 627.4,909.7 634.3,909.3 641.3,908.6 648.2,907.9 655.1,907.0 662.1,905.9 669.0,904.7 669.4,904.6 675.9,903.3 682.9,901.7 689.8,899.9 696.7,897.9 697.3,897.7 703.6,895.6 710.6,893.2 716.7,890.8 717.5,890.4 724.4,887.4 731.4,884.1 731.9,883.9 738.3,880.4 744.4,876.9 745.2,876.4 752.1,871.9 755.0,870.0 759.1,866.9 764.0,863.1 766.0,861.3 771.8,856.1 772.9,855.0 778.5,849.2 779.9,847.6 784.4,842.3 786.8,839.0 789.5,835.4 793.7,828.6 793.8,828.4 797.7,821.5 800.6,814.9 800.8,814.6 803.5,807.7 805.6,800.7 807.3,793.8 807.6,792.2 808.5,786.9 809.4,779.9 809.8,773.0 809.7,766.1 809.3,759.2 808.4,752.2 807.6,747.8 807.1,745.3 805.5,738.4 803.3,731.4 800.7,724.5 800.6,724.5 797.6,717.6 793.9,710.7 793.7,710.3 789.8,703.7 786.8,699.5 784.9,696.8 779.9,690.5 779.4,689.9 773.1,682.9 772.9,682.8 766.0,676.1 765.9,676.0 759.1,670.3 757.6,669.1 752.1,665.0 748.2,662.2 745.2,660.2 738.3,655.9 737.2,655.2 731.4,652.0 724.4,648.4 724.3,648.3 717.5,645.1 710.6,642.1 708.9,641.4 703.6,639.3 696.7,636.7 690.0,634.5 689.8,634.4 682.9,632.2 675.9,630.2 669.0,628.3 665.7,627.5 662.1,626.6 655.1,625.1 648.2,623.6 641.3,622.3 634.4,621.0 631.6,620.6 627.4,619.9 620.5,618.9 613.6,617.9 606.6,617.1 599.7,616.3 592.8,615.6 585.8,615.0 578.9,614.5 572.0,614.0 566.1,613.7 565.1,613.6 558.1,613.3 551.2,613.0 544.3,612.8 537.3,612.6 530.4,612.6 523.5,612.5 516.6,612.6 509.6,612.7 502.7,612.9 495.8,613.2 488.8,613.5 486.4,613.7 481.9,613.9 475.0,614.4 468.1,615.0 461.1,615.8 454.2,616.6 447.3,617.5 440.3,618.6 433.4,619.8 429.6,620.6 426.5,621.2 419.6,622.8 412.6,624.6 405.7,626.7 403.3,627.5 398.8,629.1 391.8,631.8 386.1,634.5 384.9,635.0 378.0,638.7 373.5,641.4 371.0,642.9 364.1,648.0 363.7,648.3 357.2,653.9 355.8,655.2 350.3,661.0 349.3,662.2 343.8,669.1 343.3,669.7 339.0,676.0 336.4,680.3 334.9,682.9 331.2,689.9 329.5,693.5 328.0,696.8 325.1,703.7 322.5,710.3 322.4,710.7 320.0,717.6 317.8,724.5 315.8,731.4 315.6,732.2 314.0,738.4 312.3,745.3 310.7,752.2 309.2,759.2 308.7,761.8 307.9,766.1 306.6,773.0 305.5,779.9 304.4,786.9 303.5,793.8 302.7,800.7 301.9,807.7 301.8,809.7 301.3,814.6 300.9,821.5 300.5,828.4 300.4,835.4 300.5,842.3 300.8,849.2 301.4,856.1 301.8,859.2 302.3,863.1 303.7,870.0 305.8,876.9 308.7,883.5 308.9,883.9 313.6,890.8 315.6,893.0 321.5,897.7 322.5,898.4 329.5,901.9 336.4,904.3ZM378.5,904.6 384.9,905.1 391.8,905.5 398.8,905.8 405.7,906.0 412.6,906.1 419.6,906.2 426.5,906.3 433.4,906.4 440.3,906.4 447.3,906.5 454.2,906.5 461.1,906.5 468.1,906.5 475.0,906.5 481.9,906.5 488.8,906.5 495.8,906.5 502.7,906.5 509.6,906.5 516.6,906.5 523.5,906.5 530.4,906.5 537.3,906.5 544.3,906.5 551.2,906.5 558.1,906.4 565.1,906.4 572.0,906.3 578.9,906.2 585.8,906.1 592.8,905.9 599.7,905.7 606.6,905.4 613.6,905.1 619.6,904.6 620.5,904.6 627.4,903.9 634.4,903.1 641.3,902.1 648.2,900.9 655.1,899.3 661.3,897.7 662.1,897.5 669.0,895.4 675.9,892.9 681.2,890.8 682.9,890.0 689.8,886.7 695.4,883.9 696.7,883.0 703.6,878.8 706.6,876.9 710.6,874.0 715.9,870.0 717.5,868.5 723.7,863.1 724.4,862.2 730.3,856.1 731.4,854.9 736.1,849.2 738.3,846.0 741.0,842.3 745.1,835.4 745.2,835.1 748.7,828.4 751.6,821.5 752.1,819.8 754.0,814.6 755.9,807.7 757.2,800.7 758.1,793.8 758.5,786.9 758.5,779.9 758.1,773.0 757.1,766.1 755.8,759.2 753.9,752.2 752.1,747.1 751.5,745.3 748.7,738.4 745.3,731.4 745.2,731.4 741.3,724.5 738.3,720.0 736.7,717.6 731.4,710.7 731.3,710.7 725.2,703.7 724.4,702.9 718.2,696.8 717.5,696.2 710.6,690.2 710.2,689.9 703.6,684.9 700.9,682.9 696.7,680.1 690.1,676.0 689.8,675.8 682.9,671.9 677.4,669.1 675.9,668.4 669.0,665.1 662.1,662.2 662.1,662.2 655.1,659.4 648.2,657.0 642.9,655.2 641.3,654.7 634.3,652.6 627.4,650.7 620.5,649.0 617.3,648.3 613.6,647.5 606.6,646.0 599.7,644.8 592.8,643.6 585.8,642.6 578.9,641.7 575.9,641.4 572.0,640.9 565.1,640.3 558.1,639.7 551.2,639.2 544.3,638.9 537.3,638.6 530.4,638.5 523.5,638.4 516.6,638.5 509.6,638.7 502.7,639.0 495.8,639.4 488.8,639.9 481.9,640.5 475.0,641.3 474.3,641.4 468.1,642.2 461.1,643.3 454.2,644.5 447.3,645.9 440.3,647.6 437.5,648.3 433.4,649.4 426.5,651.5 419.6,653.9 416.1,655.2 412.6,656.6 405.7,659.6 400.6,662.2 398.8,663.1 391.8,667.0 388.6,669.1 384.9,671.5 378.8,676.0 378.0,676.6 371.0,682.5 370.5,682.9 364.1,689.2 363.5,689.9 357.4,696.8 357.2,697.0 352.0,703.7 350.3,706.1 347.2,710.7 343.3,716.8 342.9,717.6 339.0,724.5 336.4,729.3 335.4,731.4 332.1,738.4 329.5,744.4 329.1,745.3 326.4,752.2 323.8,759.2 322.5,762.8 321.5,766.1 319.3,773.0 317.3,779.9 315.6,786.5 315.5,786.9 313.9,793.8 312.5,800.7 311.2,807.7 310.1,814.6 309.3,821.5 308.7,828.4 308.7,829.6 308.4,835.4 308.5,842.3 308.7,845.4 308.9,849.2 309.8,856.1 311.3,863.1 313.6,870.0 315.6,874.3 316.9,876.9 321.9,883.9 322.5,884.6 329.5,890.8 329.5,890.8 336.4,895.0 342.7,897.7 343.3,898.0 350.3,900.2 357.2,901.8 364.1,903.0 371.0,903.9 378.0,904.6ZM368.1,897.7 371.0,898.2 378.0,899.2 384.9,899.9 391.8,900.4 398.8,900.7 405.7,901.0 412.6,901.2 419.6,901.4 426.5,901.5 433.4,901.6 440.3,901.6 447.3,901.7 454.2,901.7 461.1,901.7 468.1,901.7 475.0,901.7 481.9,901.7 488.8,901.8 495.8,901.8 502.7,901.8 509.6,901.8 516.6,901.7 523.5,901.7 530.4,901.7 537.3,901.7 544.3,901.7 551.2,901.6 558.1,901.6 565.1,901.5 572.0,901.5 578.9,901.3 585.8,901.2 592.8,901.0 599.7,900.7 606.6,900.3 613.6,899.8 620.5,899.1 627.4,898.2 630.6,897.7 634.3,897.1 641.3,895.7 648.2,893.8 655.1,891.6 657.5,890.8 662.1,888.9 669.0,885.7 672.6,883.9 675.9,881.9 682.9,877.4 683.5,876.9 689.8,872.0 692.3,870.0 696.7,865.6 699.3,863.1 703.6,857.8 705.1,856.1 710.0,849.2 710.6,848.1 714.1,842.3 717.4,835.4 717.5,835.0 720.1,828.4 722.2,821.5 723.7,814.6 724.4,809.8 724.8,807.7 725.3,800.7 725.3,793.8 724.9,786.9 724.4,783.7 723.9,779.9 722.5,773.0 720.5,766.1 718.0,759.2 717.5,757.9 715.0,752.2 711.3,745.3 710.6,744.0 707.1,738.4 703.6,733.6 702.1,731.4 696.7,725.0 696.3,724.5 689.8,717.8 689.6,717.6 682.9,711.5 681.9,710.7 675.9,705.9 672.9,703.7 669.0,701.0 662.4,696.8 662.1,696.6 655.1,692.6 649.9,689.9 648.2,689.0 641.3,685.8 634.6,682.9 634.3,682.8 627.4,680.1 620.5,677.7 615.0,676.0 613.6,675.6 606.6,673.6 599.7,671.8 592.8,670.2 587.1,669.1 585.8,668.8 578.9,667.6 572.0,666.5 565.1,665.6 558.1,664.8 551.2,664.1 544.3,663.6 537.3,663.3 530.4,663.1 523.5,663.0 516.6,663.0 509.6,663.2 502.7,663.5 495.8,664.0 488.8,664.6 481.9,665.4 475.0,666.4 468.1,667.5 461.1,668.8 460.0,669.1 454.2,670.4 447.3,672.1 440.3,674.1 434.5,676.0 433.4,676.4 426.5,678.9 419.6,681.8 417.1,682.9 412.6,685.0 405.7,688.6 403.6,689.9 398.8,692.7 392.6,696.8 391.8,697.3 384.9,702.5 383.4,703.7 378.0,708.2 375.4,710.7 371.0,714.8 368.4,717.6 364.1,722.2 362.2,724.5 357.2,730.7 356.7,731.4 351.7,738.4 350.3,740.3 347.1,745.3 343.3,751.5 342.9,752.2 339.1,759.2 336.4,764.4 335.6,766.1 332.4,773.0 329.5,779.9 329.4,779.9 326.8,786.9 324.4,793.8 322.5,799.6 322.2,800.7 320.3,807.7 318.7,814.6 317.5,821.5 316.5,828.4 316.0,835.4 316.0,842.3 316.5,849.2 317.7,856.1 319.7,863.1 322.5,869.5 322.8,870.0 327.3,876.9 329.5,879.5 334.0,883.9 336.4,885.7 343.3,890.0 345.0,890.8 350.3,893.1 357.2,895.3 364.1,897.0ZM362.9,890.8 364.1,891.1 371.0,892.7 378.0,893.8 384.9,894.7 391.8,895.3 398.8,895.7 405.7,896.1 412.6,896.3 419.6,896.5 426.5,896.6 433.4,896.7 440.3,896.8 447.3,896.9 454.2,896.9 461.1,896.9 468.1,896.9 475.0,897.0 481.9,897.0 488.8,897.0 495.8,897.0 502.7,897.0 509.6,897.0 516.6,897.0 523.5,896.9 530.4,896.9 537.3,896.9 544.3,896.9 551.2,896.8 558.1,896.8 565.1,896.7 572.0,896.6 578.9,896.5 585.8,896.3 592.8,896.0 599.7,895.7 606.6,895.2 613.6,894.6 620.5,893.7 627.4,892.6 634.3,891.2 635.8,890.8 641.3,889.3 648.2,886.9 655.1,883.9 655.1,883.9 662.1,880.1 667.0,876.9 669.0,875.4 675.6,870.0 675.9,869.7 682.3,863.1 682.9,862.3 687.6,856.1 689.8,852.5 691.9,849.2 695.2,842.3 696.7,838.0 697.8,835.4 699.7,828.4 701.0,821.5 701.8,814.6 701.9,807.7 701.6,800.7 700.7,793.8 699.2,786.9 697.1,779.9 696.7,778.7 694.6,773.0 691.4,766.1 689.8,763.2 687.5,759.2 682.9,752.2 682.9,752.1 677.6,745.3 675.9,743.4 671.3,738.4 669.0,736.0 664.0,731.4 662.1,729.7 655.5,724.5 655.1,724.3 648.2,719.4 645.4,717.6 641.3,715.1 634.4,711.2 633.2,710.7 627.4,707.8 620.5,704.7 618.2,703.7 613.6,701.9 606.6,699.4 599.7,697.1 598.5,696.8 592.8,695.1 585.8,693.4 578.9,691.8 572.0,690.5 568.5,689.9 565.1,689.3 558.1,688.3 551.2,687.5 544.3,686.8 537.3,686.4 530.4,686.0 523.5,685.9 516.6,685.9 509.6,686.1 502.7,686.4 495.8,686.9 488.8,687.6 481.9,688.5 475.0,689.5 473.2,689.9 468.1,690.8 461.1,692.2 454.2,693.9 447.3,695.9 444.4,696.8 440.3,698.1 433.4,700.5 426.5,703.3 425.6,703.7 419.6,706.4 412.6,709.9 411.4,710.7 405.7,713.8 399.7,717.6 398.8,718.2 391.8,723.0 389.9,724.5 384.9,728.4 381.4,731.4 378.0,734.4 373.8,738.4 371.0,741.1 367.2,745.3 364.1,748.6 361.1,752.2 357.2,757.1 355.7,759.2 350.7,766.1 350.3,766.7 346.2,773.0 343.3,777.7 342.1,779.9 338.4,786.9 336.4,790.7 335.0,793.8 332.0,800.7 329.5,807.4 329.4,807.7 327.1,814.6 325.3,821.5 324.0,828.4 323.2,835.4 322.9,842.3 323.4,849.2 324.8,856.1 327.3,863.1 329.5,867.2 331.1,870.0 336.4,876.4 336.9,876.9 343.3,882.2 346.0,883.9 350.3,886.2 357.2,889.1ZM398.8,890.8 405.7,891.2 412.6,891.5 419.6,891.7 426.5,891.8 433.4,891.9 440.3,892.0 447.3,892.1 454.2,892.1 461.1,892.1 468.1,892.2 475.0,892.2 481.9,892.2 488.8,892.2 495.8,892.2 502.7,892.2 509.6,892.2 516.6,892.2 523.5,892.2 530.4,892.1 537.3,892.1 544.3,892.1 551.2,892.0 558.1,892.0 565.1,891.9 572.0,891.8 578.9,891.6 585.8,891.4 592.8,891.1 598.0,890.8 599.7,890.7 606.6,890.2 613.6,889.4 620.5,888.5 627.4,887.1 634.3,885.4 638.9,883.9 641.3,883.0 648.2,879.9 653.6,876.9 655.1,875.9 662.1,870.7 662.9,870.0 669.0,863.7 669.6,863.1 674.6,856.1 675.9,853.5 678.3,849.2 681.0,842.3 682.9,835.4 682.9,835.4 684.1,828.4 684.6,821.5 684.4,814.6 683.7,807.7 682.9,803.5 682.3,800.7 680.3,793.8 677.7,786.9 675.9,783.1 674.4,779.9 670.4,773.0 669.0,770.9 665.5,766.1 662.1,761.7 659.8,759.2 655.1,754.2 653.1,752.2 648.2,747.8 645.1,745.3 641.3,742.3 635.6,738.4 634.3,737.5 627.4,733.3 624.1,731.4 620.5,729.5 613.6,726.2 609.7,724.5 606.6,723.2 599.7,720.5 592.8,718.2 590.8,717.6 585.8,716.1 578.9,714.3 572.0,712.7 565.1,711.3 561.2,710.7 558.1,710.1 551.2,709.2 544.3,708.4 537.3,707.8 530.4,707.4 523.5,707.2 516.6,707.1 509.6,707.3 502.7,707.6 495.8,708.1 488.8,708.8 481.9,709.7 475.8,710.7 475.0,710.8 468.1,712.1 461.1,713.6 454.2,715.3 447.3,717.4 446.6,717.6 440.3,719.6 433.4,722.1 427.7,724.5 426.5,725.0 419.6,728.2 413.2,731.4 412.6,731.7 405.7,735.6 401.3,738.4 398.8,740.0 391.8,744.8 391.2,745.3 384.9,750.1 382.4,752.2 378.0,756.0 374.6,759.2 371.0,762.5 367.7,766.1 364.1,769.8 361.4,773.0 357.2,778.0 355.8,779.9 350.7,786.9 350.3,787.4 346.1,793.8 343.3,798.4 342.1,800.7 338.5,807.7 336.4,812.2 335.4,814.6 332.9,821.5 331.0,828.4 329.7,835.4 329.5,839.2 329.3,842.3 329.5,845.7 329.7,849.2 331.2,856.1 334.1,863.1 336.4,866.6 338.9,870.0 343.3,874.6 346.3,876.9 350.3,879.6 357.2,883.1 359.4,883.9 364.1,885.5 371.0,887.3 378.0,888.6 384.9,889.6 391.8,890.3 398.8,890.8ZM380.0,883.9 384.9,884.6 391.8,885.4 398.8,885.9 405.7,886.3 412.6,886.6 419.6,886.8 426.5,887.0 433.4,887.1 440.3,887.2 447.3,887.3 454.2,887.3 461.1,887.3 468.1,887.4 475.0,887.4 481.9,887.4 488.8,887.4 495.8,887.4 502.7,887.4 509.6,887.4 516.6,887.4 523.5,887.4 530.4,887.4 537.3,887.3 544.3,887.3 551.2,887.3 558.1,887.2 565.1,887.1 572.0,887.0 578.9,886.8 585.8,886.6 592.8,886.2 599.7,885.8 606.6,885.2 613.6,884.4 617.0,883.9 620.5,883.3 627.4,881.8 634.3,879.8 641.3,876.9 641.3,876.9 648.2,873.0 652.4,870.0 655.1,867.5 659.6,863.1 662.1,859.5 664.5,856.1 667.8,849.2 669.0,845.1 670.0,842.3 671.2,835.4 671.6,828.4 671.2,821.5 670.0,814.6 669.0,810.7 668.2,807.7 665.6,800.7 662.3,793.8 662.1,793.3 658.2,786.9 655.1,782.5 653.2,779.9 648.2,774.2 647.1,773.0 641.3,767.3 639.9,766.1 634.3,761.5 631.1,759.2 627.4,756.5 620.6,752.2 620.5,752.2 613.6,748.3 607.4,745.3 606.6,744.9 599.7,741.9 592.8,739.3 590.0,738.4 585.8,737.0 578.9,734.9 572.0,733.1 565.1,731.6 564.1,731.4 558.1,730.3 551.2,729.2 544.3,728.3 537.3,727.7 530.4,727.2 523.5,726.9 516.6,726.8 509.6,726.9 502.7,727.2 495.8,727.7 488.8,728.3 481.9,729.2 475.0,730.3 468.8,731.4 468.1,731.6 461.1,733.0 454.2,734.8 447.3,736.7 442.3,738.4 440.3,739.0 433.4,741.4 426.5,744.2 424.2,745.3 419.6,747.3 412.6,750.8 410.0,752.2 405.7,754.5 398.8,758.7 398.1,759.2 391.8,763.3 388.1,766.1 384.9,768.4 379.2,773.0 378.0,774.0 371.4,779.9 371.0,780.2 364.4,786.9 364.1,787.2 358.2,793.8 357.2,795.0 352.7,800.7 350.3,804.0 347.9,807.7 343.7,814.6 343.3,815.3 340.3,821.5 337.6,828.4 336.4,832.9 335.8,835.4 334.8,842.3 335.0,849.2 336.4,854.3 336.9,856.1 340.3,863.1 343.3,867.0 346.3,870.0 350.3,873.3 356.4,876.9 357.2,877.4 364.1,880.2 371.0,882.2 378.0,883.6ZM370.2,876.9 371.0,877.2 378.0,878.7 384.9,879.8 391.8,880.6 398.8,881.1 405.7,881.5 412.6,881.8 419.6,882.1 426.5,882.2 433.4,882.3 440.3,882.4 447.3,882.5 454.2,882.5 461.1,882.6 468.1,882.6 475.0,882.6 481.9,882.6 488.8,882.6 495.8,882.6 502.7,882.6 509.6,882.6 516.6,882.6 523.5,882.6 530.4,882.6 537.3,882.6 544.3,882.5 551.2,882.5 558.1,882.4 565.1,882.3 572.0,882.2 578.9,882.0 585.8,881.8 592.8,881.4 599.7,881.0 606.6,880.4 613.6,879.5 620.5,878.4 626.4,876.9 627.4,876.7 634.3,874.5 641.3,871.0 642.9,870.0 648.2,866.0 651.3,863.1 655.1,857.9 656.5,856.1 659.6,849.2 661.1,842.3 661.5,835.4 661.0,828.4 659.6,821.5 657.3,814.6 655.1,809.7 654.1,807.7 650.0,800.7 648.2,798.0 644.9,793.8 641.3,789.6 638.6,786.9 634.3,782.8 630.8,779.9 627.4,777.2 621.4,773.0 620.5,772.4 613.6,768.1 609.7,766.1 606.6,764.5 599.7,761.3 594.5,759.2 592.8,758.4 585.8,756.0 578.9,753.8 573.1,752.2 572.0,751.9 565.1,750.3 558.1,748.9 551.2,747.8 544.3,746.8 537.3,746.1 530.4,745.6 524.2,745.3 523.5,745.3 516.6,745.1 509.6,745.2 506.0,745.3 502.7,745.4 495.8,745.8 488.8,746.4 481.9,747.2 475.0,748.2 468.1,749.4 461.1,750.9 455.5,752.2 454.2,752.5 447.3,754.4 440.3,756.5 433.4,758.8 432.6,759.2 426.5,761.4 419.6,764.3 415.9,766.1 412.6,767.6 405.7,771.1 402.3,773.0 398.8,775.0 391.8,779.2 390.8,779.9 384.9,783.9 381.0,786.9 378.0,789.1 372.4,793.8 371.0,794.8 364.8,800.7 364.1,801.3 358.2,807.7 357.2,808.6 352.5,814.6 350.3,817.5 347.8,821.5 344.0,828.4 343.3,830.1 341.3,835.4 339.8,842.3 339.6,849.2 341.8,856.1 343.3,858.9 346.1,863.1 350.3,867.4 353.9,870.0 357.2,872.1 364.1,875.1ZM409.3,876.9 412.6,877.1 419.6,877.3 426.5,877.5 433.4,877.6 440.3,877.7 447.3,877.7 454.2,877.8 461.1,877.8 468.1,877.8 475.0,877.8 481.9,877.8 488.8,877.9 495.8,877.9 502.7,877.9 509.6,877.8 516.6,877.8 523.5,877.8 530.4,877.8 537.3,877.8 544.3,877.8 551.2,877.7 558.1,877.6 565.1,877.5 572.0,877.4 578.9,877.2 585.8,877.0 587.4,876.9 592.8,876.7 599.7,876.2 606.6,875.6 613.6,874.8 620.5,873.6 627.4,871.9 632.6,870.0 634.3,869.4 641.3,865.3 644.1,863.1 648.2,858.4 650.0,856.1 653.1,849.2 654.0,842.3 653.5,835.4 651.9,828.4 649.1,821.5 648.2,819.6 645.3,814.6 641.3,808.9 640.2,807.7 634.3,801.3 633.8,800.7 627.4,795.1 625.6,793.8 620.5,790.0 615.5,786.9 613.6,785.6 606.6,781.8 602.5,779.9 599.7,778.6 592.8,775.7 585.8,773.2 585.2,773.0 578.9,771.0 572.0,769.1 565.1,767.5 558.1,766.1 557.9,766.1 551.2,764.9 544.3,764.0 537.3,763.2 530.4,762.7 523.5,762.3 516.6,762.2 509.6,762.2 502.7,762.4 495.8,762.7 488.8,763.3 481.9,764.0 475.0,764.9 468.1,766.0 467.8,766.1 461.1,767.3 454.2,768.8 447.3,770.5 440.3,772.4 438.5,773.0 433.4,774.6 426.5,776.9 419.6,779.6 418.7,779.9 412.6,782.5 405.7,785.7 403.4,786.9 398.8,789.1 391.8,793.0 390.6,793.8 384.9,797.2 379.7,800.7 378.0,801.8 371.0,807.0 370.3,807.7 364.1,812.8 362.4,814.6 357.2,819.7 355.7,821.5 350.4,828.4 350.3,828.7 346.6,835.4 344.3,842.3 343.8,849.2 346.1,856.1 350.3,861.7 351.7,863.1 357.2,867.4 363.3,870.0 364.1,870.4 371.0,872.5 378.0,874.0 384.9,875.1 391.8,875.8 398.8,876.4 405.7,876.8ZM381.8,870.0 384.9,870.5 391.8,871.2 398.8,871.7 405.7,872.1 412.6,872.4 419.6,872.6 426.5,872.7 433.4,872.8 440.3,872.9 447.3,873.0 454.2,873.0 461.1,873.0 468.1,873.0 475.0,873.1 481.9,873.1 488.8,873.1 495.8,873.1 502.7,873.1 509.6,873.1 516.6,873.1 523.5,873.1 530.4,873.0 537.3,873.0 544.3,873.0 551.2,872.9 558.1,872.9 565.1,872.8 572.0,872.7 578.9,872.5 585.8,872.3 592.8,872.0 599.7,871.6 606.6,871.0 613.6,870.2 614.5,870.0 620.5,869.0 627.4,867.4 634.3,864.8 637.0,863.1 641.3,859.8 644.6,856.1 647.8,849.2 647.9,842.3 646.4,835.4 643.4,828.4 641.3,824.9 638.7,821.5 634.3,816.4 632.4,814.6 627.4,810.1 624.0,807.7 620.5,805.0 613.6,800.8 613.4,800.7 606.6,797.1 599.7,794.0 599.3,793.8 592.8,791.2 585.8,788.8 579.4,786.9 578.9,786.7 572.0,784.9 565.1,783.3 558.1,782.0 551.2,780.9 544.3,780.0 543.6,779.9 537.3,779.3 530.4,778.7 523.5,778.4 516.6,778.2 509.6,778.2 502.7,778.3 495.8,778.6 488.8,779.1 481.9,779.7 480.1,779.9 475.0,780.5 468.1,781.5 461.1,782.6 454.2,783.9 447.3,785.4 441.3,786.9 440.3,787.1 433.4,789.0 426.5,791.0 419.6,793.3 418.4,793.8 412.6,795.8 405.7,798.6 401.0,800.7 398.8,801.6 391.8,804.9 386.8,807.7 384.9,808.6 378.0,812.6 375.1,814.6 371.0,817.1 365.3,821.5 364.1,822.3 357.4,828.4 357.2,828.6 351.9,835.4 350.3,838.0 348.3,842.3 346.9,849.2 350.2,856.1 350.3,856.2 357.2,862.9 357.7,863.1 364.1,866.1 371.0,868.1 378.0,869.5ZM368.2,863.1 371.0,863.9 378.0,865.2 384.9,866.1 391.8,866.7 398.8,867.1 405.7,867.5 412.6,867.7 419.6,867.9 426.5,868.0 433.4,868.1 440.3,868.1 447.3,868.2 454.2,868.2 461.1,868.3 468.1,868.3 475.0,868.3 481.9,868.3 488.8,868.3 495.8,868.3 502.7,868.3 509.6,868.3 516.6,868.3 523.5,868.3 530.4,868.3 537.3,868.3 544.3,868.2 551.2,868.2 558.1,868.1 565.1,868.1 572.0,868.0 578.9,867.8 585.8,867.6 592.8,867.4 599.7,867.0 606.6,866.5 613.6,865.8 620.5,864.7 627.3,863.1 627.4,863.0 634.3,860.7 639.7,856.1 641.3,853.9 644.0,849.2 643.0,842.3 641.3,838.1 639.8,835.4 634.5,828.4 634.3,828.3 627.4,822.2 626.3,821.5 620.5,817.5 615.2,814.6 613.6,813.6 606.6,810.3 600.0,807.7 599.7,807.5 592.8,805.0 585.8,802.9 578.9,801.0 577.6,800.7 572.0,799.4 565.1,798.0 558.1,796.8 551.2,795.8 544.3,795.0 537.3,794.4 530.4,793.9 527.9,793.8 523.5,793.6 516.6,793.4 509.6,793.4 502.7,793.5 495.8,793.7 494.1,793.8 488.8,794.1 481.9,794.6 475.0,795.2 468.1,796.0 461.1,797.0 454.2,798.1 447.3,799.3 440.4,800.7 440.3,800.7 433.4,802.3 426.5,804.0 419.6,805.9 413.8,807.7 412.6,808.0 405.7,810.2 398.8,812.8 394.3,814.6 391.8,815.5 384.9,818.5 378.9,821.5 378.0,821.9 371.0,825.6 366.8,828.4 364.1,829.9 357.3,835.4 357.2,835.4 352.1,842.3 350.3,848.2 350.0,849.2 350.3,849.8 353.9,856.1 357.2,859.4 364.1,862.1ZM414.5,863.1 419.6,863.2 426.5,863.3 433.4,863.4 440.3,863.4 447.3,863.4 454.2,863.5 461.1,863.5 468.1,863.5 475.0,863.5 481.9,863.5 488.8,863.5 495.8,863.5 502.7,863.5 509.6,863.5 516.6,863.5 523.5,863.5 530.4,863.5 537.3,863.5 544.3,863.5 551.2,863.4 558.1,863.4 565.1,863.3 572.0,863.3 578.9,863.1 581.9,863.1 585.8,863.0 592.8,862.8 599.7,862.5 606.6,862.1 613.6,861.5 620.5,860.6 627.4,859.3 634.3,856.9 635.3,856.1 640.7,849.2 638.4,842.3 634.3,836.6 632.3,835.4 627.4,831.5 621.6,828.4 620.5,827.7 613.6,824.4 606.6,821.8 605.7,821.5 599.7,819.4 592.8,817.4 585.8,815.7 580.7,814.6 578.9,814.2 572.0,812.8 565.1,811.7 558.1,810.7 551.2,809.9 544.3,809.3 537.3,808.8 530.4,808.4 523.5,808.1 516.6,807.9 509.6,807.9 502.7,807.9 495.8,808.1 488.8,808.4 481.9,808.8 475.0,809.3 468.1,809.9 461.1,810.7 454.2,811.5 447.3,812.5 440.3,813.5 434.4,814.6 433.4,814.7 426.5,816.1 419.6,817.5 412.6,819.1 405.7,820.9 403.7,821.5 398.8,822.8 391.8,824.9 384.9,827.3 382.0,828.4 378.0,829.8 371.0,832.7 366.0,835.4 364.1,836.1 357.2,840.2 355.7,842.3 351.9,849.2 357.2,855.9 358.0,856.1 364.1,858.5 371.0,860.0 378.0,861.0 384.9,861.7 391.8,862.2 398.8,862.6 405.7,862.8 412.6,863.0ZM370.8,856.1 371.0,856.2 378.0,857.0 384.9,857.5 391.8,857.9 398.8,858.1 405.7,858.3 412.6,858.4 419.6,858.5 426.5,858.6 433.4,858.6 440.3,858.7 447.3,858.7 454.2,858.7 461.1,858.7 468.1,858.7 475.0,858.8 481.9,858.8 488.8,858.8 495.8,858.8 502.7,858.8 509.6,858.8 516.6,858.8 523.5,858.8 530.4,858.7 537.3,858.7 544.3,858.7 551.2,858.7 558.1,858.7 565.1,858.6 572.0,858.6 578.9,858.5 585.8,858.4 592.8,858.2 599.7,858.0 606.6,857.7 613.6,857.3 620.5,856.6 623.4,856.1 627.4,855.6 634.3,854.2 638.6,849.2 634.3,842.5 633.6,842.3 627.4,838.7 620.5,836.0 618.2,835.4 613.6,833.7 606.6,831.8 599.7,830.1 592.8,828.7 591.1,828.4 585.8,827.5 578.9,826.4 572.0,825.4 565.1,824.6 558.1,824.0 551.2,823.4 544.3,822.9 537.3,822.6 530.4,822.3 523.5,822.1 516.6,822.0 509.6,821.9 502.7,822.0 495.8,822.1 488.8,822.3 481.9,822.5 475.0,822.9 468.1,823.3 461.1,823.8 454.2,824.4 447.3,825.0 440.3,825.8 433.4,826.6 426.5,827.5 419.9,828.4 419.6,828.5 412.6,829.6 405.7,830.8 398.8,832.1 391.8,833.5 384.9,835.1 384.0,835.4 378.0,836.8 371.0,838.8 364.1,841.2 362.2,842.3 357.2,843.8 353.6,849.2 357.2,853.7 364.1,855.1ZM355.4,849.2 357.2,851.5 364.1,852.2 371.0,852.7 378.0,853.1 384.9,853.3 391.8,853.5 398.8,853.7 405.7,853.7 412.6,853.8 419.6,853.9 426.5,853.9 433.4,853.9 440.3,853.9 447.3,854.0 454.2,854.0 461.1,854.0 468.1,854.0 475.0,854.0 481.9,854.0 488.8,854.0 495.8,854.0 502.7,854.0 509.6,854.0 516.6,854.0 523.5,854.0 530.4,854.0 537.3,854.0 544.3,854.0 551.2,854.0 558.1,853.9 565.1,853.9 572.0,853.9 578.9,853.9 585.8,853.8 592.8,853.7 599.7,853.6 606.6,853.5 613.6,853.2 620.5,852.9 627.4,852.4 634.3,851.7 636.5,849.2 634.3,845.9 627.4,844.4 620.5,843.0 616.0,842.3 613.6,841.8 606.6,840.8 599.7,839.9 592.8,839.2 585.8,838.5 578.9,838.0 572.0,837.5 565.1,837.1 558.1,836.7 551.2,836.4 544.3,836.2 537.3,836.0 530.4,835.8 523.5,835.7 516.6,835.7 509.6,835.6 502.7,835.7 495.8,835.7 488.8,835.8 481.9,836.0 475.0,836.1 468.1,836.3 461.1,836.6 454.2,836.9 447.3,837.2 440.3,837.6 433.4,838.0 426.5,838.5 419.6,839.0 412.6,839.5 405.7,840.1 398.8,840.8 391.8,841.5 385.3,842.3 384.9,842.3 378.0,843.2 371.0,844.2 364.1,845.3 357.2,846.5Z" fill="none" stroke="#000" stroke-width="1.45" stroke-linejoin="round"/>
<clipPath id="ax"><rect x="287.90" y="572.10" width="692.90" height="692.80"/></clipPath>
<g clip-path="url(#ax)" fill="none" stroke-linejoin="round">
<path d="M287.90,918.50 291.36,918.50 294.83,918.50 298.29,918.50 301.76,918.49 305.22,918.49 308.69,918.48 312.15,918.47 315.62,918.45 319.08,918.43 322.55,918.41 326.01,918.37 329.47,918.34 332.94,918.29 336.40,918.24 339.87,918.18 343.33,918.11 346.80,918.03 350.26,917.94 353.73,917.84 357.19,917.73 360.66,917.61 364.12,917.47 367.59,917.33 371.05,917.17 374.52,917.00 377.99,916.81 381.45,916.61 384.92,916.40 388.38,916.17 391.85,915.93 395.32,915.67 398.78,915.40 402.25,915.11 405.72,914.81 409.18,914.49 412.65,914.15 416.12,913.80 419.59,913.44 423.05,913.06 426.52,912.66 429.99,912.24 433.46,911.82 436.92,911.37 440.39,910.91 443.86,910.43 447.33,909.94 450.80,909.43 454.26,908.90 457.73,908.36 461.20,907.80 464.67,907.23 468.14,906.64 471.61,906.03 475.07,905.41 478.54,904.77 482.01,904.12 485.48,903.45 488.95,902.76 492.42,902.06 495.88,901.34 499.35,900.60 502.82,899.85 506.29,899.08 509.76,898.30 513.23,897.50 516.69,896.68 520.16,895.85 523.63,895.00 527.10,894.13 530.57,893.25 534.03,892.35 537.50,891.44 540.97,890.51 544.44,889.56 547.91,888.60 551.37,887.62 554.84,886.63 558.31,885.62 561.78,884.59 565.24,883.55 568.71,882.49 572.18,881.41 575.64,880.32 579.11,879.21 582.57,878.09 586.04,876.95 589.50,875.79 592.96,874.62 596.43,873.43 599.89,872.22 603.35,871.00 606.81,869.75 610.26,868.50 613.72,867.22 617.17,865.93 620.62,864.62 624.06,863.29 627.51,861.94 630.94,860.58 634.37,859.19 637.79,857.78 641.19,856.35 644.58,854.91 647.95,853.46 651.30,852.00 654.65,850.53 657.98,849.07 661.29,847.59 664.60,846.12 667.90,844.64 671.19,843.16 674.47,841.68 677.75,840.20 681.02,838.72 684.28,837.23 687.53,835.74 690.79,834.25 694.03,832.76 697.27,831.27 700.51,829.77 703.74,828.28 706.97,826.78 710.19,825.29 713.41,823.79 716.63,822.29 719.84,820.79 723.05,819.29 726.26,817.79 729.46,816.29 732.66,814.79 735.86,813.28 739.06,811.78 742.25,810.28 745.44,808.77 748.63,807.27 751.82,805.76 755.00,804.26 758.18,802.75 761.36,801.24 764.54,799.74 767.71,798.23 770.89,796.72 774.06,795.21 777.23,793.70 780.40,792.20 783.57,790.69 786.73,789.18 789.90,787.67 793.06,786.16 796.22,784.65 799.38,783.14 802.54,781.63 805.70,780.12 808.85,778.61 812.01,777.10 815.16,775.59 818.32,774.08 821.47,772.57 824.62,771.06 827.77,769.55 830.92,768.04 834.06,766.53 837.21,765.02 840.36,763.51 843.50,762.00 846.65,760.49 849.79,758.98 852.93,757.47 856.07,755.96 859.21,754.45 862.35,752.94 865.49,751.43 868.63,749.92 871.77,748.41 874.90,746.90 878.04,745.39 881.18,743.88 884.31,742.37 887.44,740.86 890.58,739.35 893.71,737.84 896.84,736.33 899.98,734.82 903.11,733.31 906.24,731.80 909.37,730.29 912.50,728.78 915.63,727.27 918.75,725.76 921.88,724.26 925.01,722.75 928.14,721.24 931.26,719.73 934.39,718.22 937.51,716.71 940.64,715.20 943.76,713.70 946.89,712.19 950.01,710.68" stroke="#0d2be8" stroke-width="3.7" stroke-linecap="square"/>
<path d="M287.90,918.50 357.19,918.50 357.19,918.50 361.89,918.48 366.59,918.44 371.28,918.36 375.98,918.26 380.68,918.12 385.38,917.96 390.07,917.76 394.77,917.54 399.47,917.28 404.17,916.99 408.86,916.68 413.56,916.33 418.26,915.95 422.96,915.55 427.65,915.11 432.35,914.64 437.05,914.15 441.75,913.62 446.44,913.06 451.14,912.48 455.84,911.86 460.54,911.21 465.24,910.53 469.93,909.82 474.63,909.09 479.33,908.32 484.03,907.52 488.72,906.69 493.42,905.83 498.12,904.94 502.82,904.03 507.51,903.08 512.21,902.10 516.91,901.09 521.61,900.05 526.30,898.98 531.00,897.88 535.70,896.75 540.40,895.59 545.10,894.40 549.79,893.18 554.49,891.93 559.19,890.65 563.89,889.34 568.58,888.00 573.28,886.63 577.98,885.23 582.68,883.80 587.37,882.34 592.07,880.84 596.77,879.32 601.47,877.77 606.16,876.19 610.86,874.58 615.56,872.94 620.26,871.27 624.95,869.56 629.65,867.83 634.35,866.07 980.80,734.99" stroke="#2b9d10" stroke-width="4.1" stroke-linecap="butt"/>
</g>
<path d="M287.90,1126.34h9.20 M980.80,1126.34h-9.20 M426.48,1264.90v-9.20 M426.48,572.10v9.20 M287.90,987.78h9.20 M980.80,987.78h-9.20 M565.06,1264.90v-9.20 M565.06,572.10v9.20 M287.90,849.22h9.20 M980.80,849.22h-9.20 M703.64,1264.90v-9.20 M703.64,572.10v9.20 M287.90,710.66h9.20 M980.80,710.66h-9.20 M842.22,1264.90v-9.20 M842.22,572.10v9.20" stroke="#000" stroke-width="1.3" fill="none"/>
<rect x="287.90" y="572.10" width="692.90" height="692.80" fill="none" stroke="#000" stroke-width="2.1"/>
<g font-family="DejaVu Sans, Liberation Sans, sans-serif" font-size="18.76px" fill="#000" stroke="#000" stroke-width="0.38" stroke-linejoin="round">
<g text-anchor="end"><text x="280.5" y="1270.00">0.00</text><text x="280.5" y="1131.44">0.02</text><text x="280.5" y="992.88">0.04</text><text x="280.5" y="854.32">0.06</text><text x="280.5" y="715.76">0.08</text><text x="280.5" y="577.20">0.10</text></g>
<g text-anchor="middle"><text x="287.9" y="1286.80">0.00</text><text x="426.48" y="1286.80">0.02</text><text x="565.06" y="1286.80">0.04</text><text x="703.64" y="1286.80">0.06</text><text x="842.22" y="1286.80">0.08</text><text x="980.8" y="1286.80">0.10</text></g>
</g>
<g fill="#fff" stroke="#000" stroke-width="2.1"><rect x="940.3" y="676.1" width="21.4" height="25.5"/><rect x="940.3" y="759.5" width="24.3" height="27.1"/></g>
<g font-family="Liberation Sans, sans-serif" font-size="21.6px" fill="#000" text-anchor="middle"><text x="949.6" y="696.8">1</text></g>
<g font-family="Liberation Sans, sans-serif" font-size="21.5px" fill="#000" text-anchor="middle"><text x="952.6" y="780.0">2</text></g>
</svg>
<div id="t"><div class="ln" id="l0" style="left:117.65px;top:120.00px;"><b>Comparaison théorie/simulation</b></div>
<div class="ln" id="l1" style="left:117.90px;top:180.00px;word-spacing:2.019px;">La <b>figure 9</b> montre le résultat de la simulation précédente. On y voit le réseau de courbes équipo-</div>
<div class="ln" id="l2" style="left:117.90px;top:210.00px;word-spacing:1.820px;">tentielles, ainsi que deux trajectoires <span class="bx">1</span> et <span class="bx">2</span>, l’une étant associée au calcul théorique, l’autre à la</div>
<div class="ln" id="l3" style="left:117.90px;top:240.00px;word-spacing:0.798px;">simulation numérique. Chaque trajectoire est constituée de 200 points de calcul séparés d’une durée</div>
<div class="ln" id="l4" style="left:117.90px;top:270.00px;"><i>δt</i>.</div>
<div class="ln" id="l5" style="left:118.00px;top:312.00px;"><b>Q35.</b></div>
<div class="ln" id="l6" style="left:177.70px;top:312.00px;word-spacing:2.414px;">Reproduire sommairement sur la copie la <b>figure 9</b>, y ajouter le tracé de quelques lignes de</div>
<div class="ln" id="l7" style="left:177.70px;top:342.00px;">champ orientées dans les différentes parties de la zone de déviation.</div>
<div class="ln" id="l8" style="left:177.70px;top:373.00px;word-spacing:3.983px;">Identiﬁer, en le justiﬁant, chaque trajectoire. Expliquer pourquoi la trajectoire <span class="bx">1</span> est plus</div>
<div class="ln" id="l9" style="left:177.70px;top:406.00px;">courte que la trajectoire <span class="bx">2</span>.</div>
<div class="ln" id="l10" style="left:177.70px;top:436.00px;word-spacing:-0.839px;">À votre avis, peut-on se contenter de l’étude théorique pour prévoir le point d’impact de l’élec-</div>
<div class="ln" id="l11" style="left:177.70px;top:466.00px;">tron sur l’écran ? (On attend une réponse chiffrée.)</div>
<div class="ln" id="l12" style="left:117.90px;top:1346.00px;word-spacing:0.905px;"><b>Figure 9 –</b> Tracé dans la zone de déviation de quelques courbes équipotentielles, des trajectoires de</div>
<div class="ln" id="l13" style="left:117.90px;top:1376.00px;">l’électron (théorique et simulée numériquement)</div>
<div class="ln" id="l14" style="left:595.00px;top:1613.00px;"><b>13/15</b></div></div>
</body></html>
